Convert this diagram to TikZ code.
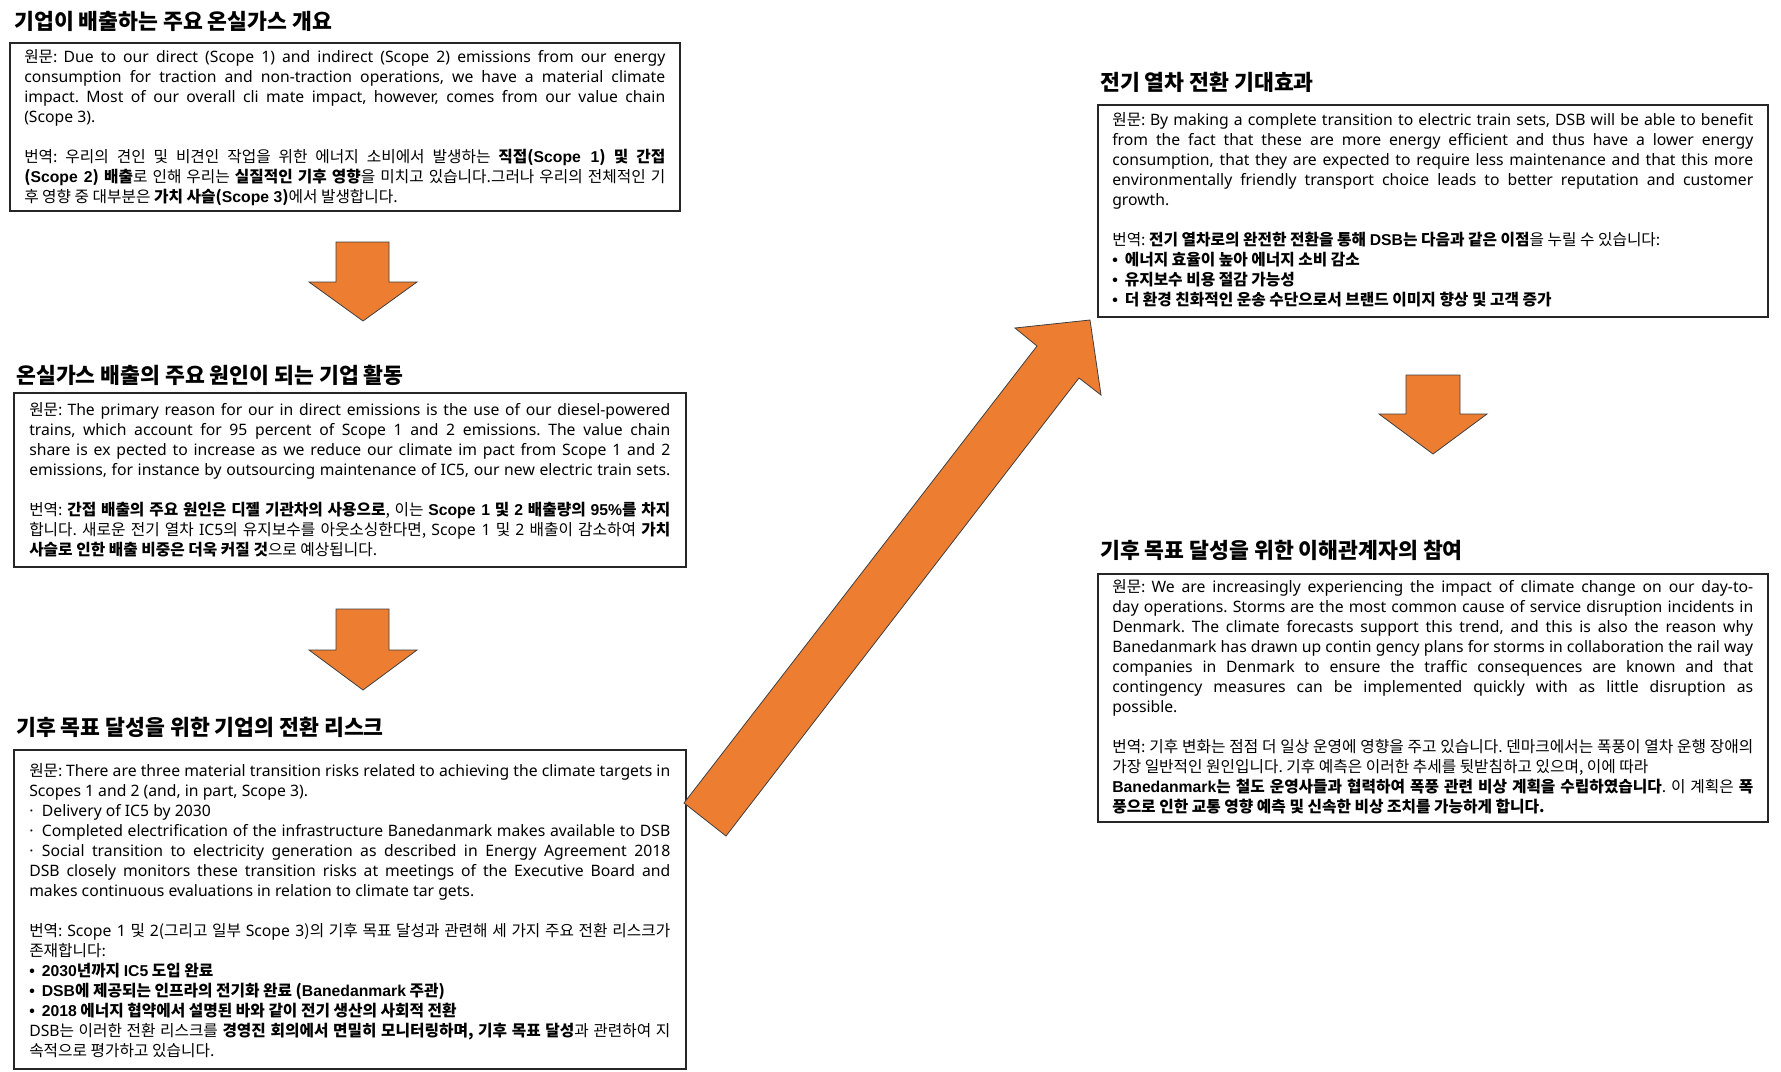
\documentclass[tikz,border=0pt]{standalone}
\usepackage{fontspec}
\usepackage{graphicx}
\usetikzlibrary{fit}
\setmainfont{Noto Sans CJK KR}
\newfontfamily\en{Noto Sans}
\newfontfamily\enb{Liberation Sans}
\definecolor{arroworange}{HTML}{ED7D31}
\frenchspacing
\newlength\tw \setlength\tw{480.75pt}
\newsavebox\lbox
\newcommand\jl[1]{\sbox\lbox{\spaceskip=0pt\xspaceskip=0pt #1}\ifdim\wd\lbox>\tw\resizebox{\tw}{\ht\lbox}{\usebox\lbox}\else\makebox[\tw][s]{\spaceskip=0pt\xspaceskip=0pt #1}\fi}
\newcommand\E[1]{{\en #1}}
\newcommand\B[1]{{\enb\bfseries #1}}
\newcommand\ebul{\makebox[9.5pt][l]{\en·}}
\newcommand\kbul{\makebox[9.4pt][l]{\B{•}}}
\newcommand\fixsp{\spaceskip=0pt\xspaceskip=0pt\frenchspacing}
\begin{document}
\begin{tikzpicture}[x=0.75pt,y=-0.75pt,
  panel/.style={draw=black!85, line width=0.8pt, inner sep=0pt, fill=none},
  txt/.style={anchor=north west, inner sep=0pt, align=left, text width=\tw, font=\fontsize{11.8pt}{15pt}\selectfont},
  ttl/.style={anchor=west, inner sep=0pt, font=\fontsize{16.2pt}{18pt}\selectfont\bfseries},
  blockarrow/.style={fill=arroworange, draw=black!75, line width=0.6pt, line join=miter}]
\fill[white] (0,0) rectangle (1781,1071);
\useasboundingbox (0,0) rectangle (1781,1071);

% titles
\node[ttl] (h1) at (14,21) {기업이 배출하는 주요 온실가스 개요};
\node[ttl] (h2) at (16,375) {온실가스 배출의 주요 원인이 되는 기업 활동};
\node[ttl] (h3) at (16,727) {기후 목표 달성을 위한 기업의 전환 리스크};
\node[ttl] (h4) at (1100,82) {전기 열차 전환 기대효과};
\node[ttl] (h5) at (1100,550) {기후 목표 달성을 위한 이해관계자의 참여};

% boxes
\node[panel, fit={(10,43) (680,211)}] (b1) {};
\node[panel, fit={(14,393) (686,567)}] (b2) {};
\node[panel, fit={(14,750) (686,1069)}] (b3) {};
\node[panel, fit={(1098,105) (1768,317)}] (b4) {};
\node[panel, fit={(1098,574) (1768,822)}] (b5) {};

% texts
\node[txt] (t1) at (24,48) {\fixsp
\jl{\strut 원문: \E{Due to our direct (Scope 1) and indirect (Scope 2) emissions from our energy}}\\
\jl{\E{consumption for traction and non-traction operations, we have a material climate}}\\
\jl{\E{impact. Most of our overall cli mate impact, however, comes from our value chain}}\\
\E{(Scope 3).}\\[15pt]
\jl{번역: 우리의 견인 및 비견인 작업을 위한 에너지 소비에서 발생하는 \textbf{직접(\B{Scope 1}) 및 간접}}\\
\jl{\textbf{(\B{Scope 2}) 배출}로 인해 우리는 \textbf{실질적인 기후 영향}을 미치고 있습니다.그러나 우리의 전체적인 기}\\
후 영향 중 대부분은 \textbf{가치 사슬(\B{Scope 3})}에서 발생합니다.};

\node[txt] (t2) at (29,401) {\fixsp
\jl{\strut 원문: \E{The primary reason for our in direct emissions is the use of our diesel-powered}}\\
\jl{\E{trains, which account for 95 percent of Scope 1 and 2 emissions. The value chain}}\\
\jl{\E{share is ex pected to increase as we reduce our climate im pact from Scope 1 and 2}}\\
\jl{\E{emissions, for instance by outsourcing maintenance of IC5, our new electric train sets.}}\\[15pt]
\jl{번역: \textbf{간접 배출의 주요 원인은 디젤 기관차의 사용으로}, 이는 \textbf{\B{Scope 1} 및 \B{2} 배출량의 \B{95\%}를 차지}}\\
\jl{합니다. 새로운 전기 열차 \E{IC5}의 유지보수를 아웃소싱한다면, \E{Scope 1} 및 \E{2} 배출이 감소하여 \textbf{가치}}\\
\textbf{사슬로 인한 배출 비중은 더욱 커질 것}으로 예상됩니다.};

\node[txt] (t3) at (29,762) {\fixsp
\jl{\strut 원문: \E{There are three material transition risks related to achieving the climate targets in}}\\
\E{Scopes 1 and 2 (and, in part, Scope 3).}\\
\E{\ebul Delivery of IC5 by 2030}\\
\jl{\E{\ebul Completed electrification of the infrastructure Banedanmark makes available to DSB}}\\
\jl{\E{\ebul Social transition to electricity generation as described in Energy Agreement 2018}}\\
\jl{\E{DSB closely monitors these transition risks at meetings of the Executive Board and}}\\
\E{makes continuous evaluations in relation to climate tar gets.}\\[15pt]
\jl{번역: \E{Scope 1} 및 \E{2}(그리고 일부 \E{Scope 3})의 기후 목표 달성과 관련해 세 가지 주요 전환 리스크가}\\
존재합니다:\\
\textbf{\kbul\B{2030}년까지 \B{IC5} 도입 완료}\\
\textbf{\kbul\B{DSB}에 제공되는 인프라의 전기화 완료 (\B{Banedanmark} 주관)}\\
\textbf{\kbul\B{2018} 에너지 협약에서 설명된 바와 같이 전기 생산의 사회적 전환}\\
\jl{\E{DSB}는 이러한 전환 리스크를 \textbf{경영진 회의에서 면밀히 모니터링하며, 기후 목표 달성}과 관련하여 지}\\
속적으로 평가하고 있습니다.};

\node[txt] (t4) at (1112,111) {\fixsp
\jl{\strut 원문: \E{By making a complete transition to electric train sets, DSB will be able to benefit}}\\
\jl{\E{from the fact that these are more energy efficient and thus have a lower energy}}\\
\jl{\E{consumption, that they are expected to require less maintenance and that this more}}\\
\jl{\E{environmentally friendly transport choice leads to better reputation and customer}}\\
\E{growth.}\\[15pt]
번역: \textbf{전기 열차로의 완전한 전환을 통해 \B{DSB}는 다음과 같은 이점}을 누릴 수 있습니다:\\
\textbf{\kbul 에너지 효율이 높아 에너지 소비 감소}\\
\textbf{\kbul 유지보수 비용 절감 가능성}\\
\textbf{\kbul 더 환경 친화적인 운송 수단으로서 브랜드 이미지 향상 및 고객 증가}};

\node[txt] (t5) at (1112,578) {\fixsp
\jl{\strut 원문: \E{We are increasingly experiencing the impact of climate change on our day-to-}}\\
\jl{\E{day operations. Storms are the most common cause of service disruption incidents in}}\\
\jl{\E{Denmark. The climate forecasts support this trend, and this is also the reason why}}\\
\jl{\E{Banedanmark has drawn up contin gency plans for storms in collaboration the rail way}}\\
\jl{\E{companies in Denmark to ensure the traffic consequences are known and that}}\\
\jl{\E{contingency measures can be implemented quickly with as little disruption as}}\\
\E{possible.}\\[15pt]
\jl{번역: 기후 변화는 점점 더 일상 운영에 영향을 주고 있습니다. 덴마크에서는 폭풍이 열차 운행 장애의}\\
가장 일반적인 원인입니다. 기후 예측은 이러한 추세를 뒷받침하고 있으며, 이에 따라\\
\jl{\textbf{\B{Banedanmark}는 철도 운영사들과 협력하여 폭풍 관련 비상 계획을 수립하였습니다}. 이 계획은 \textbf{폭}}\\
\textbf{풍으로 인한 교통 영향 예측 및 신속한 비상 조치를 가능하게 합니다.}};

% arrows
\draw[blockarrow] (336,242) -- (389,242) -- (389,282) -- (417,282) -- (363,321) -- (309,282) -- (336,282) -- cycle;
\draw[blockarrow] (336,609) -- (389,609) -- (389,650) -- (417,650) -- (363,690) -- (309,650) -- (336,650) -- cycle;
\draw[blockarrow] (1406,375) -- (1460,375) -- (1460,414) -- (1487,414) -- (1433,454) -- (1379,414) -- (1406,414) -- cycle;
\draw[blockarrow] (684,803) -- (1037,346) -- (1015,328) -- (1090,320) -- (1101,395) -- (1079,378) -- (726,836) -- cycle;
\end{tikzpicture}
\end{document}
